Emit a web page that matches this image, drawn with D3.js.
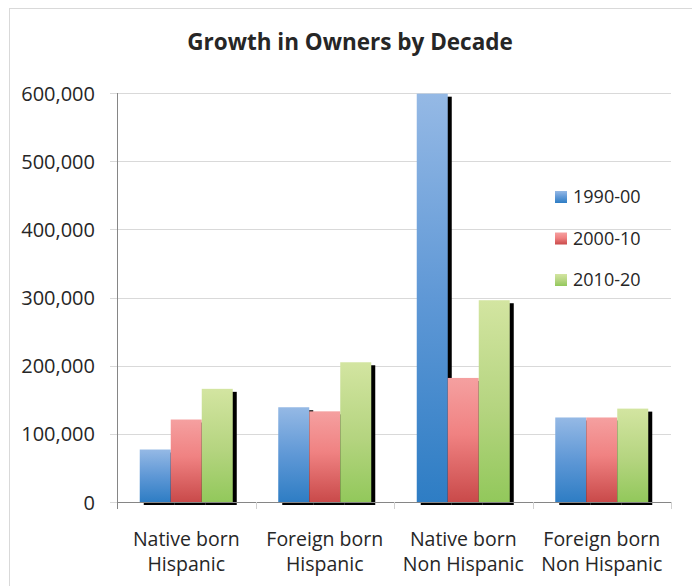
<!DOCTYPE html>
<html>
<head>
<meta charset="utf-8">
<script src="https://cdn.jsdelivr.net/npm/d3@7"></script>
<style>
  html, body { margin: 0; padding: 0; background: #fff; }
  svg { display: block; }
  text { font-family: "Open Sans", "Noto Sans", sans-serif; fill: #262626; }
</style>
</head>
<body>
<svg id="chart" width="692" height="586"></svg>
<script>
// ---- data ----
const categories = [
  ["Native born", "Hispanic"],
  ["Foreign born", "Hispanic"],
  ["Native born", "Non Hispanic"],
  ["Foreign born", "Non Hispanic"]
];
const seriesNames = ["1990-00", "2000-10", "2010-20"];
const values1990 = [77000, 139000, 599000, 124000];
const values2000 = [121000, 133000, 182000, 124000];
const values2010 = [166000, 205000, 296000, 137000];
const yTicks = [0, 100000, 200000, 300000, 400000, 500000, 600000];
const chartTitle = "Growth in Owners by Decade";

const seriesValues = [values1990, values2000, values2010];
const gradients = [
  [["0%", "#95b9e5"], ["50%", "#5f98d6"], ["100%", "#2e7dc4"]],
  [["0%", "#f5a0a0"], ["45%", "#f08282"], ["100%", "#c94a4a"]],
  [["0%", "#d3e5a1"], ["55%", "#b4d47f"], ["100%", "#92c85b"]]
];

const svg = d3.select("#chart");
const defs = svg.append("defs");
gradients.forEach((stops, i) => {
  const g = defs.append("linearGradient")
    .attr("id", "grad" + i)
    .attr("x1", 0).attr("y1", 0).attr("x2", 0).attr("y2", 1);
  stops.forEach(s => g.append("stop").attr("offset", s[0]).attr("stop-color", s[1]));
});

// chart border
svg.append("rect")
  .attr("x", 9.5).attr("y", 8.5).attr("width", 720).attr("height", 620)
  .attr("fill", "none").attr("stroke", "#d9d9d9").attr("stroke-width", 1);

const plotLeft = 117, plotRight = 671, plotTop = 93, plotBottom = 502;

const y = d3.scaleLinear().domain([0, 600000]).range([plotBottom, plotTop]);
const xOuter = d3.scaleBand().domain(d3.range(categories.length)).range([plotLeft, plotRight]).padding(0);
const groupFrac = 0.6715;
const xInner = d3.scaleBand().domain(d3.range(seriesNames.length))
  .range([0, xOuter.bandwidth() * groupFrac]).padding(0);
const groupStart = i => xOuter(i) + xOuter.bandwidth() * (1 - groupFrac) / 2;

// title
svg.append("text")
  .attr("x", 350).attr("y", 50)
  .attr("text-anchor", "middle")
  .style("font-weight", "bold")
  .style("font-size", "22.5px")
  .text(chartTitle);

// gridlines + y ticks
const grid = svg.append("g");
yTicks.forEach(t => {
  if (t === 0) return;
  grid.append("line")
    .attr("x1", plotLeft - 7).attr("x2", plotRight)
    .attr("y1", Math.round(y(t)) + 0.5).attr("y2", Math.round(y(t)) + 0.5)
    .attr("stroke", "#d9d9d9").attr("stroke-width", 1);
});
grid.append("line")
  .attr("x1", plotLeft - 7).attr("x2", plotLeft)
  .attr("y1", plotBottom + 0.5).attr("y2", plotBottom + 0.5)
  .attr("stroke", "#d9d9d9");

// y labels
const yAxis = d3.axisLeft(y).tickValues(yTicks).tickSize(0).tickPadding(0)
  .tickFormat(d3.format(","));
const yg = svg.append("g").attr("transform", `translate(${plotLeft - 22},0)`).call(yAxis);
yg.select(".domain").remove();
yg.selectAll("text")
  .style("font-size", "20px")
  .style("font-family", '"Open Sans", sans-serif')
  .attr("fill", "#262626")
  .attr("dy", "0.35em");

// shadows
const shadowDx = 4, shadowDy = 3;
const barsData = [];
seriesValues.forEach((vals, s) => vals.forEach((v, c) => barsData.push({ s, c, v })));

svg.append("g").selectAll("rect").data(barsData).enter().append("rect")
  .attr("x", d => groupStart(d.c) + xInner(d.s) + shadowDx)
  .attr("y", d => y(d.v) + shadowDy)
  .attr("width", xInner.bandwidth())
  .attr("height", d => plotBottom - y(d.v))
  .attr("fill", "#000");

// bars
svg.append("g").selectAll("rect").data(barsData).enter().append("rect")
  .attr("x", d => groupStart(d.c) + xInner(d.s))
  .attr("y", d => y(d.v))
  .attr("width", xInner.bandwidth())
  .attr("height", d => plotBottom - y(d.v))
  .attr("fill", d => `url(#grad${d.s})`);

// axis lines
svg.append("line")
  .attr("x1", plotLeft + 0.5).attr("x2", plotLeft + 0.5)
  .attr("y1", plotTop).attr("y2", plotBottom + 1)
  .attr("stroke", "#868686");
svg.append("line")
  .attr("x1", plotLeft).attr("x2", plotRight)
  .attr("y1", plotBottom + 0.5).attr("y2", plotBottom + 0.5)
  .attr("stroke", "#868686");
// category ticks
d3.range(categories.length + 1).forEach(i => {
  const xx = Math.round(plotLeft + i * xOuter.step()) + 0.5;
  svg.append("line")
    .attr("x1", xx).attr("x2", xx)
    .attr("y1", plotBottom).attr("y2", plotBottom + 7)
    .attr("stroke", i === 0 ? "#868686" : "#d0d0d0");
});

// category labels
const cl = svg.append("g");
categories.forEach((lines, i) => {
  const cx = xOuter(i) + xOuter.bandwidth() / 2;
  lines.forEach((ln, j) => {
    cl.append("text")
      .attr("x", cx).attr("y", 546 + j * 25)
      .attr("text-anchor", "middle")
      .style("font-size", "19.5px")
      .text(ln);
  });
});

// legend
const legendY = [197, 238.5, 280];
const lg = svg.append("g");
seriesNames.forEach((name, i) => {
  lg.append("rect")
    .attr("x", 555).attr("y", legendY[i] - 6)
    .attr("width", 12).attr("height", 12)
    .attr("fill", `url(#grad${i})`);
  lg.append("text")
    .attr("x", 573).attr("y", legendY[i])
    .attr("dy", "0.35em")
    .style("font-size", "18px")
    .text(name);
});
</script>
</body>
</html>
